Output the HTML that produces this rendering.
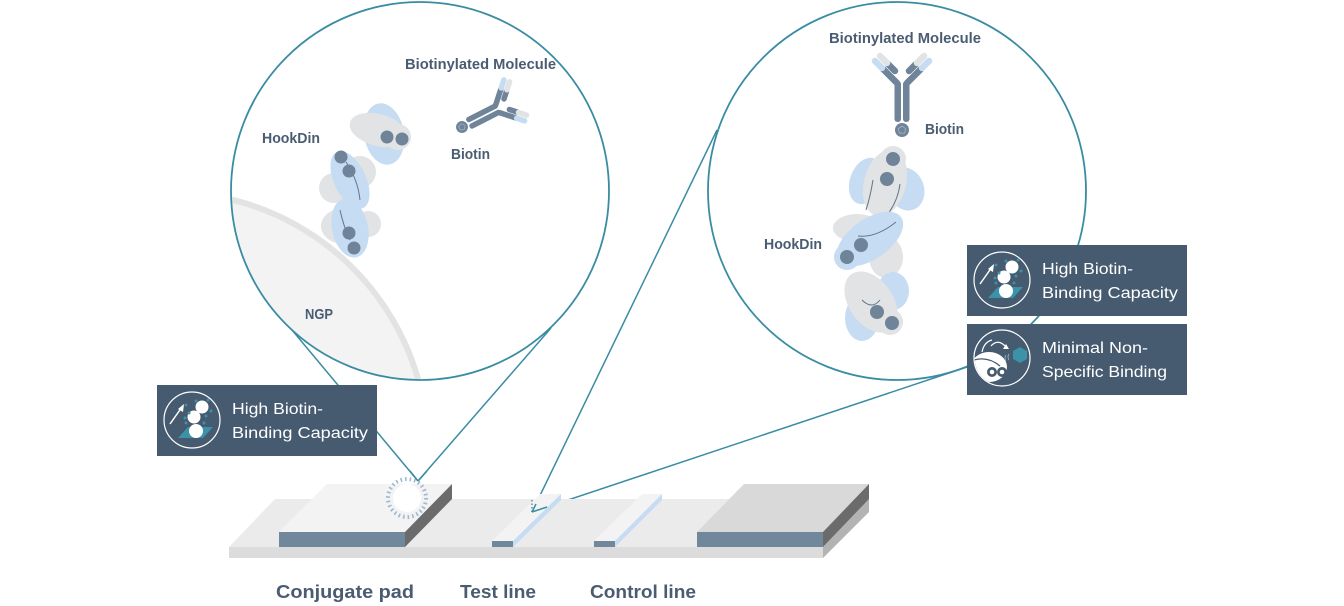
<!DOCTYPE html>
<html><head><meta charset="utf-8"><style>
html,body{margin:0;padding:0;background:#fff;width:1344px;height:606px;overflow:hidden;}
svg{display:block;}
</style></head><body>
<svg width="1344" height="606" viewBox="0 0 1344 606" xmlns="http://www.w3.org/2000/svg">
<defs>
  <clipPath id="c1"><circle cx="420" cy="191" r="188"/></clipPath>
  <clipPath id="ic"><circle cx="0" cy="0" r="27.4"/></clipPath>
  <g id="ab">
    <rect x="-7.5" y="-49" width="6.5" height="41" rx="3" fill="#6f8499"/>
    <rect x="1" y="-49" width="6.5" height="41" rx="3" fill="#6f8499"/>
    <g stroke-width="6.5" stroke-linecap="round" fill="none">
      <line x1="-5" y1="-47" x2="-19" y2="-61" stroke="#6f8499"/>
      <line x1="-20" y1="-62" x2="-27" y2="-69" stroke="#c6dcf2"/>
      <line x1="-7" y1="-59" x2="-14" y2="-66" stroke="#6f8499"/>
      <line x1="-15" y1="-67" x2="-22" y2="-74" stroke="#e2e3e4"/>
      <line x1="5" y1="-47" x2="19" y2="-61" stroke="#6f8499"/>
      <line x1="20" y1="-62" x2="27" y2="-69" stroke="#c6dcf2"/>
      <line x1="7" y1="-59" x2="14" y2="-66" stroke="#6f8499"/>
      <line x1="15" y1="-67" x2="22" y2="-74" stroke="#e2e3e4"/>
    </g>
    <circle cx="0" cy="0" r="7" fill="#6f8499"/>
    <polygon points="0,-4 3.8,-1.2 2.4,3.2 -2.4,3.2 -3.8,-1.2" fill="none" stroke="#9fb0c1" stroke-width="0.9"/>
  </g>
  <g id="ic1">
    <circle cx="0" cy="0" r="28" fill="none" stroke="#fff" stroke-width="1.2"/>
    <polygon points="-14,18 -4,7 21,7 11,18" fill="#3a93a8"/>
    <circle cx="4" cy="11" r="7" fill="#fff"/>
    <circle cx="2" cy="-3" r="6.5" fill="#fff"/>
    <circle cx="10" cy="-13" r="6.5" fill="#fff"/>
    <g fill="#3a93a8">
      <circle cx="-6" cy="-15" r="1.5"/><circle cx="-3" cy="-7" r="1.5"/><circle cx="16" cy="-20" r="1.5"/>
      <circle cx="19" cy="-9" r="1.5"/><circle cx="14" cy="-4" r="1.5"/><circle cx="-6" cy="3" r="1.5"/>
      <circle cx="12" cy="3" r="1.5"/><circle cx="-7" cy="-2" r="1.5"/><circle cx="4" cy="-19" r="1.5"/>
    </g>
    <line x1="-22" y1="4" x2="-10" y2="-13" stroke="#fff" stroke-width="1.5"/>
    <polygon points="-8,-16 -9,-8 -14,-11" fill="#fff"/>
  </g>
  <g id="ic2">
    <circle cx="0" cy="0" r="28" fill="none" stroke="#fff" stroke-width="1.2"/>
    <g clip-path="url(#ic)">
      <ellipse cx="-13" cy="9" rx="18" ry="15" fill="#fff"/>
      <path d="M-28,2 Q-14,-2 -2,8" fill="none" stroke="#465a70" stroke-width="1.2"/>
      <circle cx="-10" cy="14" r="5" fill="#465a70"/><circle cx="-10" cy="14" r="2.3" fill="#fff"/>
      <circle cx="0" cy="14" r="5" fill="#465a70"/><circle cx="0" cy="14" r="2.3" fill="#fff"/>
    </g>
    <path d="M-20,-6 Q-18,-16 -10,-18" fill="none" stroke="#fff" stroke-width="1.2"/>
    <path d="M-11,-12 Q-4,-20 4,-11" fill="none" stroke="#fff" stroke-width="1.2"/>
    <polygon points="7,-9 1,-9 4,-14" fill="#fff"/>
    <polygon points="18,-11 25,-7 25,1 18,5 11,1 11,-7" fill="#3a93a8"/>
    <path d="M7,-4 q-2,3 0,6 M4,-3 q-2,3 0,6" fill="none" stroke="#9fb3c6" stroke-width="0.9"/>
  </g>
</defs>

<!-- connector lines -->
<g stroke="#3a8ca3" stroke-width="1.5" fill="none">
  <line x1="292" y1="330" x2="418" y2="481"/>
  <line x1="551" y1="328" x2="418" y2="481"/>
  <line x1="717" y1="130" x2="532" y2="512"/>
  <line x1="967" y1="367" x2="532" y2="512"/>
</g>

<!-- circle 1 -->
<circle cx="420" cy="191" r="189" fill="#fff"/>
<path d="M231.1,199.4 A258,258 0 0,1 418.3,380 A189,189 0 0,1 231.1,199.4 Z" fill="#f3f3f3"/>
<g clip-path="url(#c1)">
  <path d="M231.1,199.4 A258,258 0 0,1 418.3,380" fill="none" stroke="#e3e3e3" stroke-width="6"/>
</g>
<!-- left molecule -->
<g>
  <ellipse cx="384" cy="134" rx="20" ry="31" fill="#c6dcf2" transform="rotate(-10 384 134)"/>
  <ellipse cx="378" cy="130" rx="29" ry="16" fill="#e2e3e4" transform="rotate(15 378 130)"/>
  <circle cx="398" cy="137" r="13" fill="#e2e3e4"/>
  <circle cx="387" cy="137" r="6.5" fill="#6f8499"/>
  <circle cx="402" cy="139" r="6.5" fill="#6f8499"/>
  <circle cx="334" cy="188" r="15" fill="#e2e3e4"/>
  <circle cx="360" cy="172" r="16" fill="#e2e3e4"/>
  <ellipse cx="350" cy="180" rx="16" ry="31" fill="#c6dcf2" transform="rotate(-25 350 180)"/>
  <path d="M346,162 Q358,180 360,200" fill="none" stroke="#60758a" stroke-width="1"/>
  <circle cx="341" cy="157" r="6.5" fill="#6f8499"/>
  <circle cx="349" cy="171" r="6.5" fill="#6f8499"/>
  <ellipse cx="344" cy="226" rx="23" ry="18" fill="#e2e3e4"/>
  <circle cx="368" cy="224" r="13" fill="#e2e3e4"/>
  <ellipse cx="350" cy="228" rx="18" ry="30" fill="#c6dcf2" transform="rotate(-12 350 228)"/>
  <path d="M340,210 Q344,228 350,240" fill="none" stroke="#60758a" stroke-width="1"/>
  <circle cx="349" cy="233" r="6.5" fill="#6f8499"/>
  <circle cx="354" cy="248" r="6.5" fill="#6f8499"/>
</g>
<use href="#ab" transform="translate(462 127) rotate(63) scale(0.85)"/>
<circle cx="420" cy="191" r="189" fill="none" stroke="#3a8ca3" stroke-width="1.8"/>

<g font-family="'Liberation Sans', sans-serif" font-weight="700" fill="#4a5c72" font-size="15">
  <text x="405" y="69" textLength="151" lengthAdjust="spacingAndGlyphs">Biotinylated Molecule</text>
  <text x="262" y="143" textLength="58" lengthAdjust="spacingAndGlyphs">HookDin</text>
  <text x="451" y="159" textLength="39" lengthAdjust="spacingAndGlyphs">Biotin</text>
  <text x="305" y="319" textLength="28" lengthAdjust="spacingAndGlyphs">NGP</text>
</g>

<!-- circle 2 -->
<circle cx="897" cy="191" r="189" fill="#fff" stroke="#3a8ca3" stroke-width="1.8"/>
<use href="#ab" transform="translate(902 130)"/>
<g>
  <ellipse cx="866" cy="181" rx="16" ry="24" fill="#c6dcf2" transform="rotate(20 866 181)"/>
  <ellipse cx="906" cy="189" rx="18" ry="22" fill="#c6dcf2" transform="rotate(-20 906 189)"/>
  <ellipse cx="885" cy="183" rx="21" ry="34" fill="#e2e3e4" transform="rotate(15 885 183)"/>
  <circle cx="893" cy="159" r="13" fill="#e2e3e4"/>
  <path d="M873,180 Q870,198 866,210 M900,184 Q898,200 888,214" fill="none" stroke="#60758a" stroke-width="1"/>
  <circle cx="893" cy="159" r="7" fill="#6f8499"/>
  <circle cx="887" cy="179" r="7" fill="#6f8499"/>
  <ellipse cx="857" cy="228" rx="24" ry="14" fill="#e2e3e4"/>
  <ellipse cx="886" cy="257" rx="17" ry="21" fill="#e2e3e4"/>
  <ellipse cx="870" cy="239" rx="38" ry="20" fill="#c6dcf2" transform="rotate(-35 870 239)"/>
  <circle cx="847" cy="257" r="13" fill="#c6dcf2"/>
  <path d="M858,236 Q876,238 896,222" fill="none" stroke="#60758a" stroke-width="1"/>
  <circle cx="861" cy="245" r="7" fill="#6f8499"/>
  <circle cx="847" cy="257" r="7" fill="#6f8499"/>
  <ellipse cx="893" cy="291" rx="16" ry="19" fill="#c6dcf2"/>
  <ellipse cx="862" cy="318" rx="17" ry="23" fill="#c6dcf2"/>
  <ellipse cx="871" cy="302" rx="22" ry="34" fill="#e2e3e4" transform="rotate(-35 871 302)"/>
  <circle cx="890" cy="322" r="13" fill="#e2e3e4"/>
  <path d="M862,300 Q872,310 880,300" fill="none" stroke="#60758a" stroke-width="1"/>
  <circle cx="877" cy="312" r="7" fill="#6f8499"/>
  <circle cx="892" cy="323" r="7" fill="#6f8499"/>
</g>
<g font-family="'Liberation Sans', sans-serif" font-weight="700" fill="#4a5c72" font-size="15">
  <text x="829" y="43" textLength="152" lengthAdjust="spacingAndGlyphs">Biotinylated Molecule</text>
  <text x="925" y="134" textLength="39" lengthAdjust="spacingAndGlyphs">Biotin</text>
  <text x="764" y="249" textLength="58" lengthAdjust="spacingAndGlyphs">HookDin</text>
</g>

<!-- info boxes -->
<rect x="157" y="385" width="220" height="71" fill="#465a70"/>
<use href="#ic1" x="192" y="420"/>
<rect x="967" y="245" width="220" height="71" fill="#465a70"/>
<use href="#ic1" x="1002" y="280"/>
<rect x="967" y="324" width="220" height="71" fill="#465a70"/>
<use href="#ic2" x="1002" y="358"/>
<g font-family="'Liberation Sans', sans-serif" fill="#fff" font-size="16">
  <text x="232" y="414" textLength="91" lengthAdjust="spacingAndGlyphs">High Biotin-</text>
  <text x="232" y="438" textLength="136" lengthAdjust="spacingAndGlyphs">Binding Capacity</text>
  <text x="1042" y="274" textLength="91" lengthAdjust="spacingAndGlyphs">High Biotin-</text>
  <text x="1042" y="298" textLength="136" lengthAdjust="spacingAndGlyphs">Binding Capacity</text>
  <text x="1042" y="353" textLength="106" lengthAdjust="spacingAndGlyphs">Minimal Non-</text>
  <text x="1042" y="377" textLength="125" lengthAdjust="spacingAndGlyphs">Specific Binding</text>
</g>

<!-- test strip -->
<polygon points="229,547 275,499 869,499 823,547" fill="#ebebeb"/>
<rect x="229" y="547" width="594" height="11" fill="#dcdcdc"/>
<polygon points="823,547 869,499 869,512 823,558" fill="#b3b3b3"/>
<!-- conjugate pad -->
<polygon points="279,532 327,484 452,484 405,532" fill="#f3f3f3"/>
<rect x="279" y="532" width="126" height="15" fill="#71879c"/>
<polygon points="405,532 452,484 452,499 405,547" fill="#6b6b6b"/>
<circle cx="407" cy="498" r="19" fill="none" stroke="#9fb8d2" stroke-width="4" stroke-dasharray="1.6 3"/>
<circle cx="407" cy="498" r="14" fill="#fff"/>
<!-- test line -->
<polygon points="492,541 540,494 561,494 513,541" fill="#f3f3f3"/>
<rect x="492" y="541" width="21" height="6" fill="#71879c"/>
<polygon points="513,541 561,494 561,500 513,547" fill="#c5dcf2"/>
<line x1="532" y1="500" x2="532" y2="514" stroke="#8aa2bb" stroke-width="2" stroke-dasharray="1.5 2"/>
<!-- control line -->
<polygon points="594,541 642,494 662,494 615,541" fill="#f3f3f3"/>
<rect x="594" y="541" width="21" height="6" fill="#71879c"/>
<polygon points="615,541 662,494 662,500 615,547" fill="#c5dcf2"/>
<!-- absorbent pad -->
<polygon points="697,532 744,484 869,484 823,532" fill="#d9d9d9"/>
<rect x="697" y="532" width="126" height="15" fill="#71879c"/>
<polygon points="823,532 869,484 869,499 823,547" fill="#6b6b6b"/>

<!-- apex lines over pads -->
<g stroke="#3a8ca3" stroke-width="1.5" fill="none">
  <line x1="410" y1="471" x2="418" y2="481"/>
  <line x1="427" y1="471" x2="418" y2="481"/>
  <line x1="536" y1="504" x2="532" y2="512"/>
  <line x1="547" y1="507" x2="532" y2="512"/>
</g>

<g font-family="'Liberation Sans', sans-serif" font-weight="700" fill="#4a5c72" font-size="18">
  <text x="276" y="598" textLength="138" lengthAdjust="spacingAndGlyphs">Conjugate pad</text>
  <text x="460" y="598" textLength="76" lengthAdjust="spacingAndGlyphs">Test line</text>
  <text x="590" y="598" textLength="106" lengthAdjust="spacingAndGlyphs">Control line</text>
</g>
</svg>
</body></html>
